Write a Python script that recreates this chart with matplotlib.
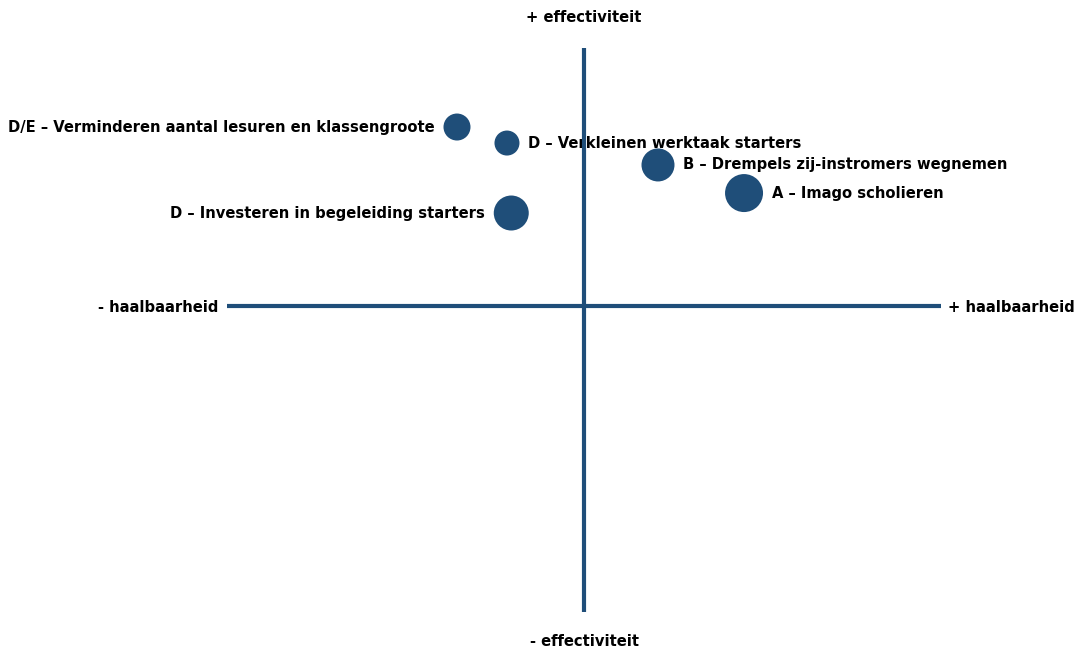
import matplotlib.pyplot as plt

# maatregelen: haalbaarheid (x), effectiviteit (y), belang (bubbelgrootte)
labels = ['D/E \u2013 Verminderen aantal lesuren en klassengroote',
          'D \u2013 Verkleinen werktaak starters',
          'B \u2013 Drempels zij-instromers wegnemen',
          'A \u2013 Imago scholieren',
          'D \u2013 Investeren in begeleiding starters']
haalbaarheid = [-3.56, -2.16, 2.07, 4.48, -2.04]
effectiviteit = [6.37, 5.80, 5.02, 4.02, 3.31]
belang = [13.5, 12.5, 16.5, 19, 17.5]
side = ['left', 'right', 'right', 'right', 'left']

color = '#1f4e79'
px = 0.72  # points per pixel at dpi 100

fig = plt.figure(figsize=(10.8, 6.5), dpi=100)
ax = fig.add_axes([0, 0, 1, 1])
ax.set_xlim(-16.36, 13.89)
ax.set_ylim(-12.24, 10.89)
ax.axis('off')

# assen
ax.plot([-10, 10], [0, 0], color=color, lw=3.0, solid_capstyle='butt', zorder=3)
ax.plot([0, 0], [-10.9, 9.18], color=color, lw=3.0, solid_capstyle='butt', zorder=3)

font = dict(fontsize=10.6, fontweight='bold', color='black', family='DejaVu Sans')
ax.text(0, 10.28, '+ effectiviteit', ha='center', va='center', **font)
ax.text(0, -11.95, '- effectiviteit', ha='center', va='center', **font)
ax.text(-10.25, -0.04, '- haalbaarheid', ha='right', va='center', **font)
ax.text(13.75, -0.04, '+ haalbaarheid', ha='right', va='center', **font)

for lab, x, y, r, s in zip(labels, haalbaarheid, effectiviteit, belang, side):
    ax.scatter(x, y, s=(2 * r * px) ** 2, color=color, edgecolors='none', zorder=2)
    off = (r + 9) * px
    if s == 'left':
        ax.annotate(lab, (x, y), xytext=(-off, 0), textcoords='offset points',
                    ha='right', va='center', zorder=1, **font)
    else:
        ax.annotate(lab, (x, y), xytext=(off, 0), textcoords='offset points',
                    ha='left', va='center', zorder=1, **font)

plt.savefig('out.png', dpi=100)
